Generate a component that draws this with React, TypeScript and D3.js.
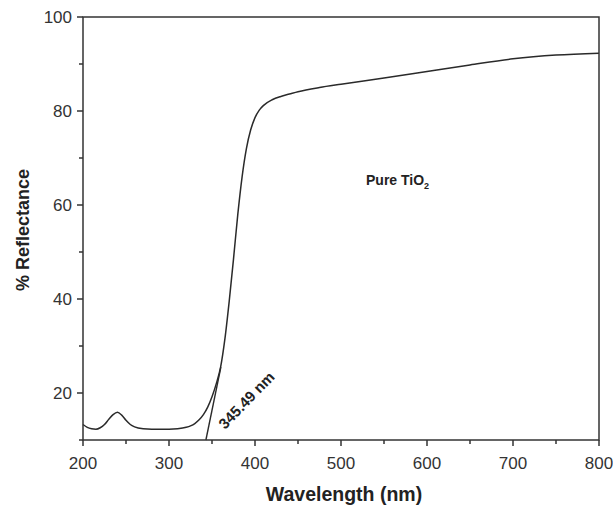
import React from "react";
import * as d3 from "d3";

const wavelengths = [200, 205, 210, 215, 220, 225, 230, 235, 240, 245, 250, 255, 260, 270, 280, 290, 300, 310, 320, 325, 330, 335, 340, 345, 350, 355, 360, 365, 370, 375, 380, 385, 390, 395, 400, 405, 410, 420, 430, 440, 450, 475, 500, 550, 600, 650, 700, 750, 800];
const reflectance = [13.3, 12.7, 12.4, 12.3, 12.6, 13.3, 14.4, 15.4, 15.9, 15.3, 14.2, 13.3, 12.8, 12.4, 12.3, 12.3, 12.3, 12.4, 12.7, 13.0, 13.5, 14.3, 15.4, 17.0, 19.2, 22.0, 25.5, 31.5, 39.5, 48.5, 58, 66, 72, 76, 78.6, 80.2, 81.2, 82.4, 83.1, 83.6, 84.1, 85.0, 85.7, 87.0, 88.4, 89.8, 91.1, 91.9, 92.3];
const tangentX = [342.9, 360.3];
const tangentY = [10, 25.5];
const xTicks = [200, 300, 400, 500, 600, 700, 800];
const xMinorTicks = [250, 350, 450, 550, 650, 750];
const yTicks = [20, 40, 60, 80, 100];
const yMinorTicks = [10, 30, 50, 70, 90];

export default function App() {
  const left = 83, right = 599, top = 17, bottom = 440;
  const x = d3.scaleLinear().domain([200, 800]).range([left, right]);
  const y = d3.scaleLinear().domain([10, 100]).range([bottom, top]);
  const pts = wavelengths.map((w, i) => [w, reflectance[i]] as [number, number]);
  const line = d3.line<[number, number]>().x(d => x(d[0])).y(d => y(d[1])).curve(d3.curveMonotoneX);
  const axisColor = "#333";
  const font = "Liberation Sans, Arial, sans-serif";
  return (
    <svg width={613} height={507} style={{ position: "absolute", left: 0, top: 0, background: "#fff" }} fontFamily={font}>
      <rect x={0} y={0} width={613} height={507} fill="#fff" />
      <path d={line(pts) || ""} fill="none" stroke="#2a2a2a" strokeWidth={1.5} />
      <line x1={x(tangentX[0])} y1={y(tangentY[0])} x2={x(tangentX[1])} y2={y(tangentY[1])} stroke="#2a2a2a" strokeWidth={1.4} />
      <rect x={left} y={top} width={right - left} height={bottom - top} fill="none" stroke={axisColor} strokeWidth={1.5} />
      {xTicks.map(t => (
        <g key={"x" + t}>
          <line x1={x(t)} x2={x(t)} y1={bottom} y2={bottom + 6} stroke={axisColor} strokeWidth={1.5} />
          <text x={x(t)} y={bottom + 29} textAnchor="middle" fontSize={17} fill="#333">{t}</text>
        </g>
      ))}
      {xMinorTicks.map(t => (
        <line key={"xm" + t} x1={x(t)} x2={x(t)} y1={bottom} y2={bottom + 4} stroke={axisColor} strokeWidth={1.5} />
      ))}
      {yTicks.map(t => (
        <g key={"y" + t}>
          <line x1={left} x2={left - 6} y1={y(t)} y2={y(t)} stroke={axisColor} strokeWidth={1.5} />
          <text x={left - 11} y={y(t) + 6} textAnchor="end" fontSize={17} fill="#333">{t}</text>
        </g>
      ))}
      {yMinorTicks.map(t => (
        <line key={"ym" + t} x1={left} x2={left - 4} y1={y(t)} y2={y(t)} stroke={axisColor} strokeWidth={1.5} />
      ))}
      <text x={344} y={501} textAnchor="middle" fontSize={19.5} fontWeight="bold" fill="#222">Wavelength (nm)</text>
      <text transform={`translate(29, 230) rotate(-90)`} textAnchor="middle" fontSize={18} fontWeight="bold" fill="#222">% Reflectance</text>
      <text x={366} y={185} fontSize={14} fontWeight="bold" fill="#222">Pure TiO<tspan fontSize={9} dy={4}>2</tspan></text>
      <text transform={`translate(225, 430) rotate(-46)`} fontSize={15} fontWeight="bold" fill="#222">345.49 nm</text>
    </svg>
  );
}
